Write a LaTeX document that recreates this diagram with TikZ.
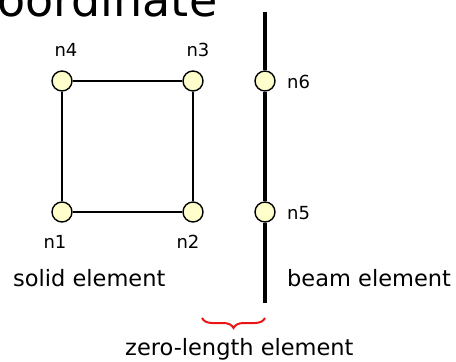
\documentclass[tikz,border=0pt]{standalone}
\usepackage{fontspec}
\setmainfont{DejaVu Sans}
\usetikzlibrary{decorations.pathreplacing}
\definecolor{nodefill}{RGB}{255,255,204}
\definecolor{bracered}{RGB}{235,20,20}

\begin{document}
\begin{tikzpicture}[
  x=1pt, y=-1pt,
  nd/.style={circle, draw, line width=1.4pt, fill=nodefill, minimum size=20pt, inner sep=0pt},
  nlbl/.style={font=\fontsize{18}{20}\selectfont, inner sep=0pt, anchor=base},
  txt/.style={font=\fontsize{22.5}{26}\selectfont, inner sep=0pt, anchor=base west},
  ttl/.style={font=\fontsize{46}{50}\selectfont, inner sep=0pt, anchor=base west},
  elem/.style={line width=2.3pt},
  beam/.style={line width=4pt},
  zl/.style={draw=bracered, line width=2pt, decorate, decoration={brace, amplitude=10pt}},
]
\useasboundingbox (0,0) rectangle (456,362);
\clip (0,0) rectangle (456,362);
\node[ttl] (title) at (-3,16.5) {oordinate};
% solid element
\node[nd] (n1) at (62,212) {};
\node[nd] (n2) at (193,212) {};
\node[nd] (n3) at (193,81) {};
\node[nd] (n4) at (62,81) {};
\draw[elem] (n1) -- (n2) -- (n3) -- (n4) -- (n1);
\node[nlbl] (l1) at (55,248) {n1};
\node[nlbl] (l2) at (188,248) {n2};
\node[nlbl] (l3) at (198,56.5) {n3};
\node[nlbl] (l4) at (66,56.5) {n4};
\node[txt] (solid) at (13,286.5) {solid element};
% beam element
\coordinate (btop) at (265,12);
\coordinate (bbot) at (265,303);
\node[nd] (n6) at (265,81) {};
\node[nd] (n5) at (265,212) {};
\draw[beam] (btop) -- (n6) -- (n5) -- (bbot);
\node[nlbl, anchor=base west] (l6) at (287,88) {n6};
\node[nlbl, anchor=base west] (l5) at (287,219) {n5};
\node[txt] (beamtxt) at (287,286) {beam element};
% zero-length element
\coordinate (zlr) at (265,318);
\coordinate (zll) at (202,318);
\draw[zl] (zlr) -- (zll);
\node[txt] (zero) at (125,355) {zero-length element};
\end{tikzpicture}
\end{document}
